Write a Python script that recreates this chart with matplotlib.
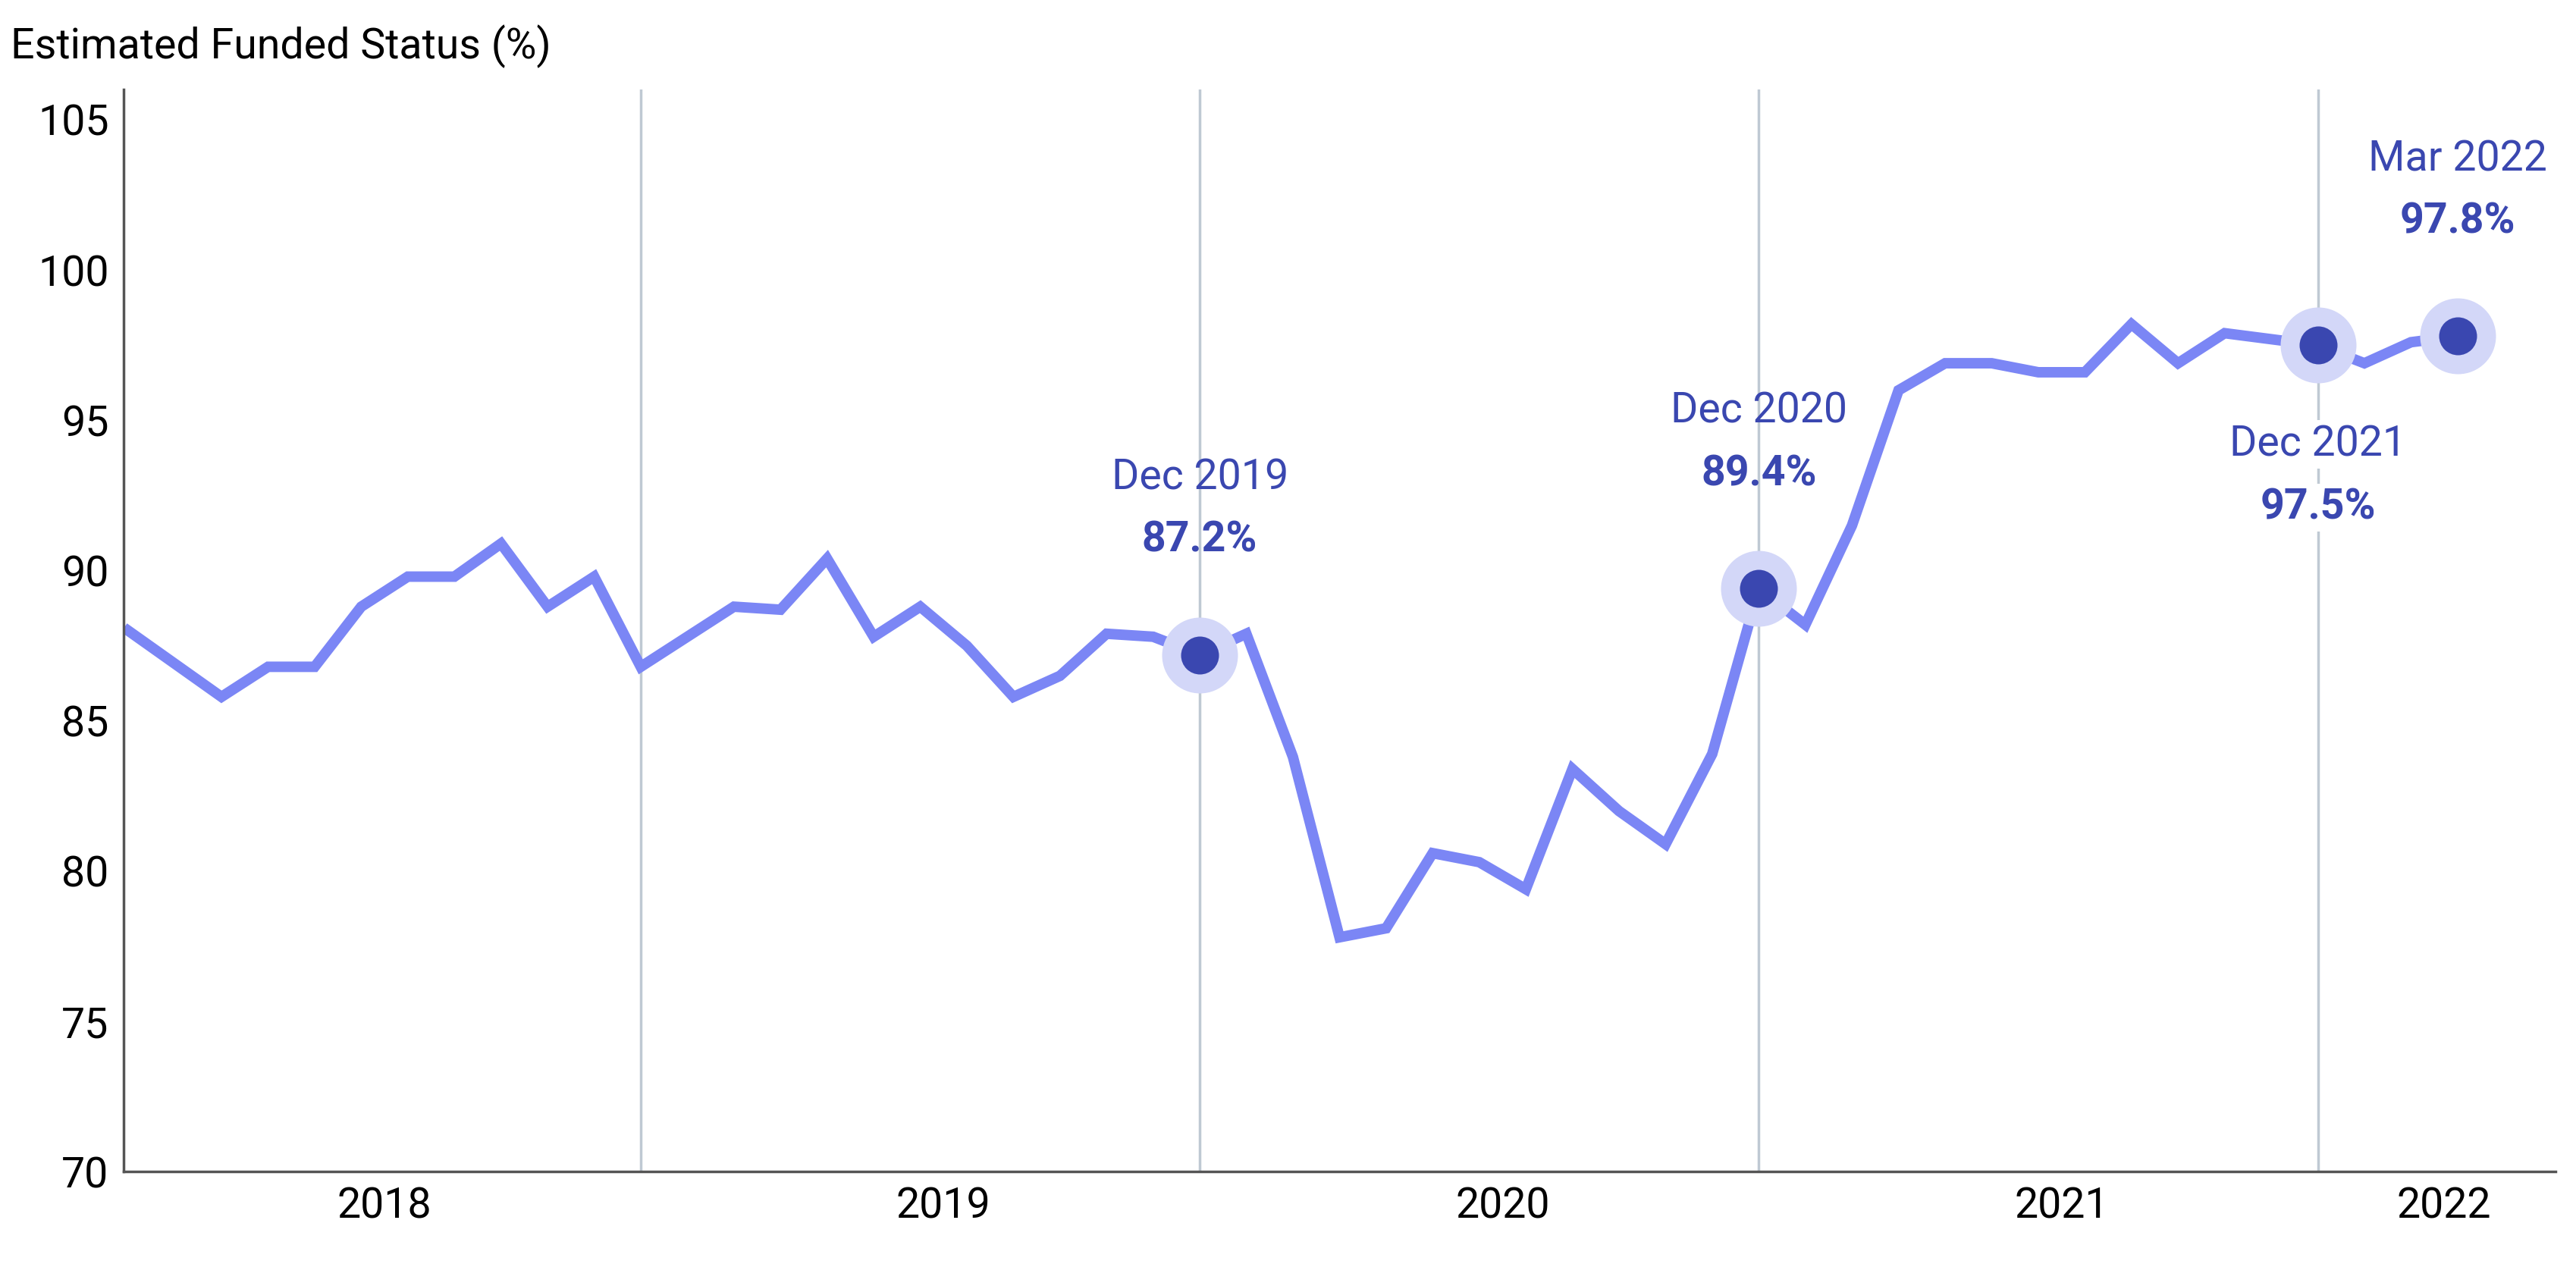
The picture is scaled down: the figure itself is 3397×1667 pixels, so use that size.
import matplotlib
matplotlib.use("Agg")
import matplotlib.pyplot as plt
import numpy as np

months = [f"{y}-{m:02d}" for y in range(2018, 2023) for m in range(1, 13)][:51]
values = [88.0, 86.9, 85.8, 86.8, 86.8, 88.8, 89.8, 89.8, 90.9, 88.8, 89.8, 86.8,
          87.8, 88.8, 88.7, 90.4, 87.8, 88.8, 87.5, 85.8, 86.5, 87.9, 87.8, 87.2,
          87.9, 83.8, 77.8, 78.1, 80.6, 80.3, 79.4, 83.4, 82.0, 80.9, 83.9, 89.4,
          88.2, 91.5, 96.0, 96.9, 96.9, 96.6, 96.6, 98.2, 96.9, 97.9, 97.7, 97.5,
          96.9, 97.6, 97.8]
year_labels = ["2018", "2019", "2020", "2021", "2022"]
year_pos = [5.5, 17.5, 29.5, 41.5, 49.7]
highlights = {"2019-12": ("Dec 2019", "87.2%", "above"),
              "2020-12": ("Dec 2020", "89.4%", "above"),
              "2021-12": ("Dec 2021", "97.5%", "below"),
              "2022-03": ("Mar 2022", "97.8%", "above")}
yticks = [70, 75, 80, 85, 90, 95, 100, 105]

plt.rcParams['font.family'] = ['Roboto', 'DejaVu Sans']
fig = plt.figure(figsize=(33.97, 16.67), dpi=100)
ax = fig.add_axes([0.048, 0.073, 0.944, 0.856])
x = np.arange(len(values))
LINE = "#7B86F5"; DARK = "#3A47B0"; HALO = "#D3D7F8"; GRID = "#BFC9D3"

for m in ["2018-12", "2019-12", "2020-12", "2021-12"]:
    ax.axvline(months.index(m), color=GRID, lw=2.5, zorder=0)
ax.plot(x, values, color=LINE, lw=10, zorder=2, solid_joinstyle='miter')
for m, (lab, val, pos) in highlights.items():
    i = months.index(m)
    v = values[i]
    ax.plot(i, v, 'o', ms=72, color=HALO, zorder=3, mec='none')
    ax.plot(i, v, 'o', ms=36, color=DARK, zorder=4, mec='none')
    if pos == "above":
        ax.text(i, v + 5.9, lab, ha='center', va='center', fontsize=40, color=DARK, zorder=5)
        ax.text(i, v + 3.8, val, ha='center', va='center', fontsize=40, color=DARK, fontweight='bold', zorder=5)
    else:
        ax.text(i, v - 3.3, lab, ha='center', va='center', fontsize=40, color=DARK, zorder=5,
                bbox=dict(fc='white', ec='none', pad=4))
        ax.text(i, v - 5.4, val, ha='center', va='center', fontsize=40, color=DARK, fontweight='bold', zorder=5,
                bbox=dict(fc='white', ec='none', pad=4))

ax.set_xlim(-0.1, 52.1)
ax.set_ylim(70, 106)
ax.set_yticks(yticks)
ax.set_yticklabels([str(t) for t in yticks], fontsize=40)
ax.set_xticks(year_pos)
ax.set_xticklabels(year_labels, fontsize=40)
ax.tick_params(length=0, pad=14)
for s in ["top", "right"]:
    ax.spines[s].set_visible(False)
for s in ["left", "bottom"]:
    ax.spines[s].set_color("#555555"); ax.spines[s].set_linewidth(2.5)
fig.text(0.004, 0.963, "Estimated Funded Status (%)", fontsize=40, ha='left', va='center')
fig.savefig("out.png", dpi=100, facecolor='white')
